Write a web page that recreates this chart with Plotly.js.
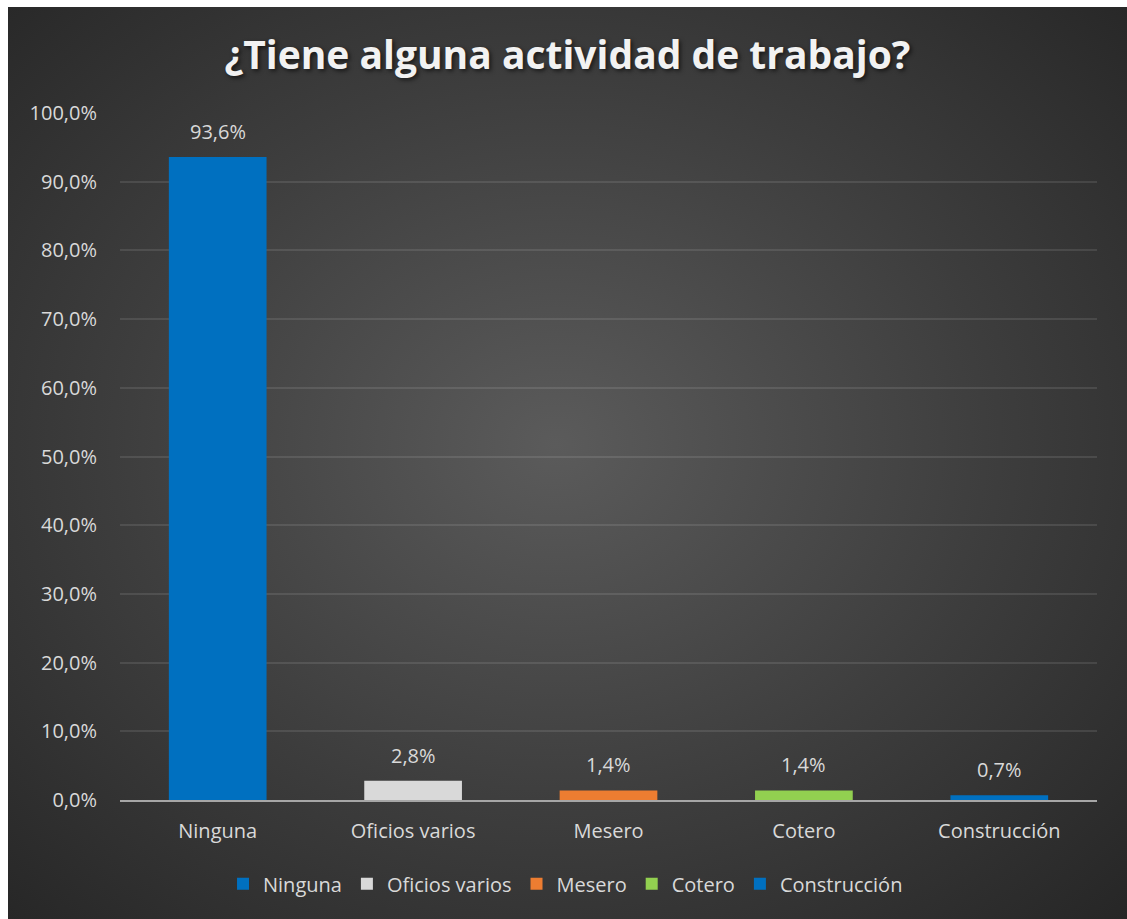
<!DOCTYPE html>
<html>
<head>
<meta charset="utf-8">
<script src="https://cdn.plot.ly/plotly-3.0.1.min.js"></script>
<style>
  html, body { margin: 0; padding: 0; background: #ffffff; }
  #chart {
    position: absolute; left: 8px; top: 7px; width: 1119px; height: 912px;
    background: radial-gradient(ellipse at 49% 48%, #5b5b5b 0%, #3d3d3d 55%, #262626 100%);
  }
</style>
</head>
<body>
<div id="chart"></div>
<script>
const categories = ["Ninguna", "Oficios varios", "Mesero", "Cotero", "Construcción"];
const values = [0.936, 0.028, 0.014, 0.014, 0.007];
const colors = ["#0070C0", "#D9D9D9", "#ED7D31", "#92D050", "#0070C0"];
const yTicks = [0, 0.1, 0.2, 0.3, 0.4, 0.5, 0.6, 0.7, 0.8, 0.9, 1.0];
const chartTitle = "¿Tiene alguna actividad de trabajo?";

const FONT = "'Open Sans', 'Noto Sans', sans-serif";
const TXT = "#d9d9d9";

const fmt = v => (v * 100).toFixed(1).replace(".", ",") + "%";

const traces = categories.map((c, i) => ({
  type: "bar",
  name: c,
  x: [c],
  y: [values[i]],
  marker: { color: colors[i] },
  width: 0.5,
  hoverinfo: "x+y"
}));

const annotations = categories.map((c, i) => ({
  x: c, y: values[i], xref: "x", yref: "y",
  text: fmt(values[i]),
  showarrow: false,
  yanchor: "bottom",
  yshift: 10,
  font: { family: FONT, size: 20, color: TXT }
}));

const layout = {
  width: 1119, height: 912,
  paper_bgcolor: "rgba(0,0,0,0)",
  plot_bgcolor: "rgba(0,0,0,0)",
  separators: ",.",
  barmode: "overlay",
  margin: { l: 112, r: 30, t: 106, b: 119 },
  font: { family: FONT, color: TXT },
  title: {
    text: chartTitle,
    x: 0.5, xanchor: "center",
    y: 0.947, yanchor: "middle", yref: "container",
    font: { family: FONT, size: 39, color: "#f2f2f2", weight: 700, shadow: "2px 2px 4px rgba(0,0,0,0.6)" }
  },
  xaxis: {
    type: "category",
    categoryorder: "array",
    categoryarray: categories,
    showline: true, linecolor: "#a6a6a6", linewidth: 2,
    showgrid: false, ticks: "",
    tickfont: { family: FONT, size: 20, color: TXT },
    ticklabelstandoff: 12
  },
  yaxis: {
    range: [0, 1],
    tickvals: yTicks,
    tickformat: ".1%",
    showgrid: true, gridcolor: "rgba(255,255,255,0.1)", gridwidth: 1.5,
    zeroline: false, showline: false, ticks: "",
    tickfont: { family: FONT, size: 20, color: TXT },
    ticklabelstandoff: 22
  },
  annotations: annotations,
  showlegend: true,
  legend: {
    orientation: "h",
    x: 0.456, xanchor: "center",
    y: -0.122, yanchor: "middle",
    font: { family: FONT, size: 20, color: TXT },
    traceorder: "normal",
    itemwidth: 30,
    bgcolor: "rgba(0,0,0,0)"
  }
};

Plotly.newPlot("chart", traces, layout, { displayModeBar: false, responsive: false });
</script>
</body>
</html>
